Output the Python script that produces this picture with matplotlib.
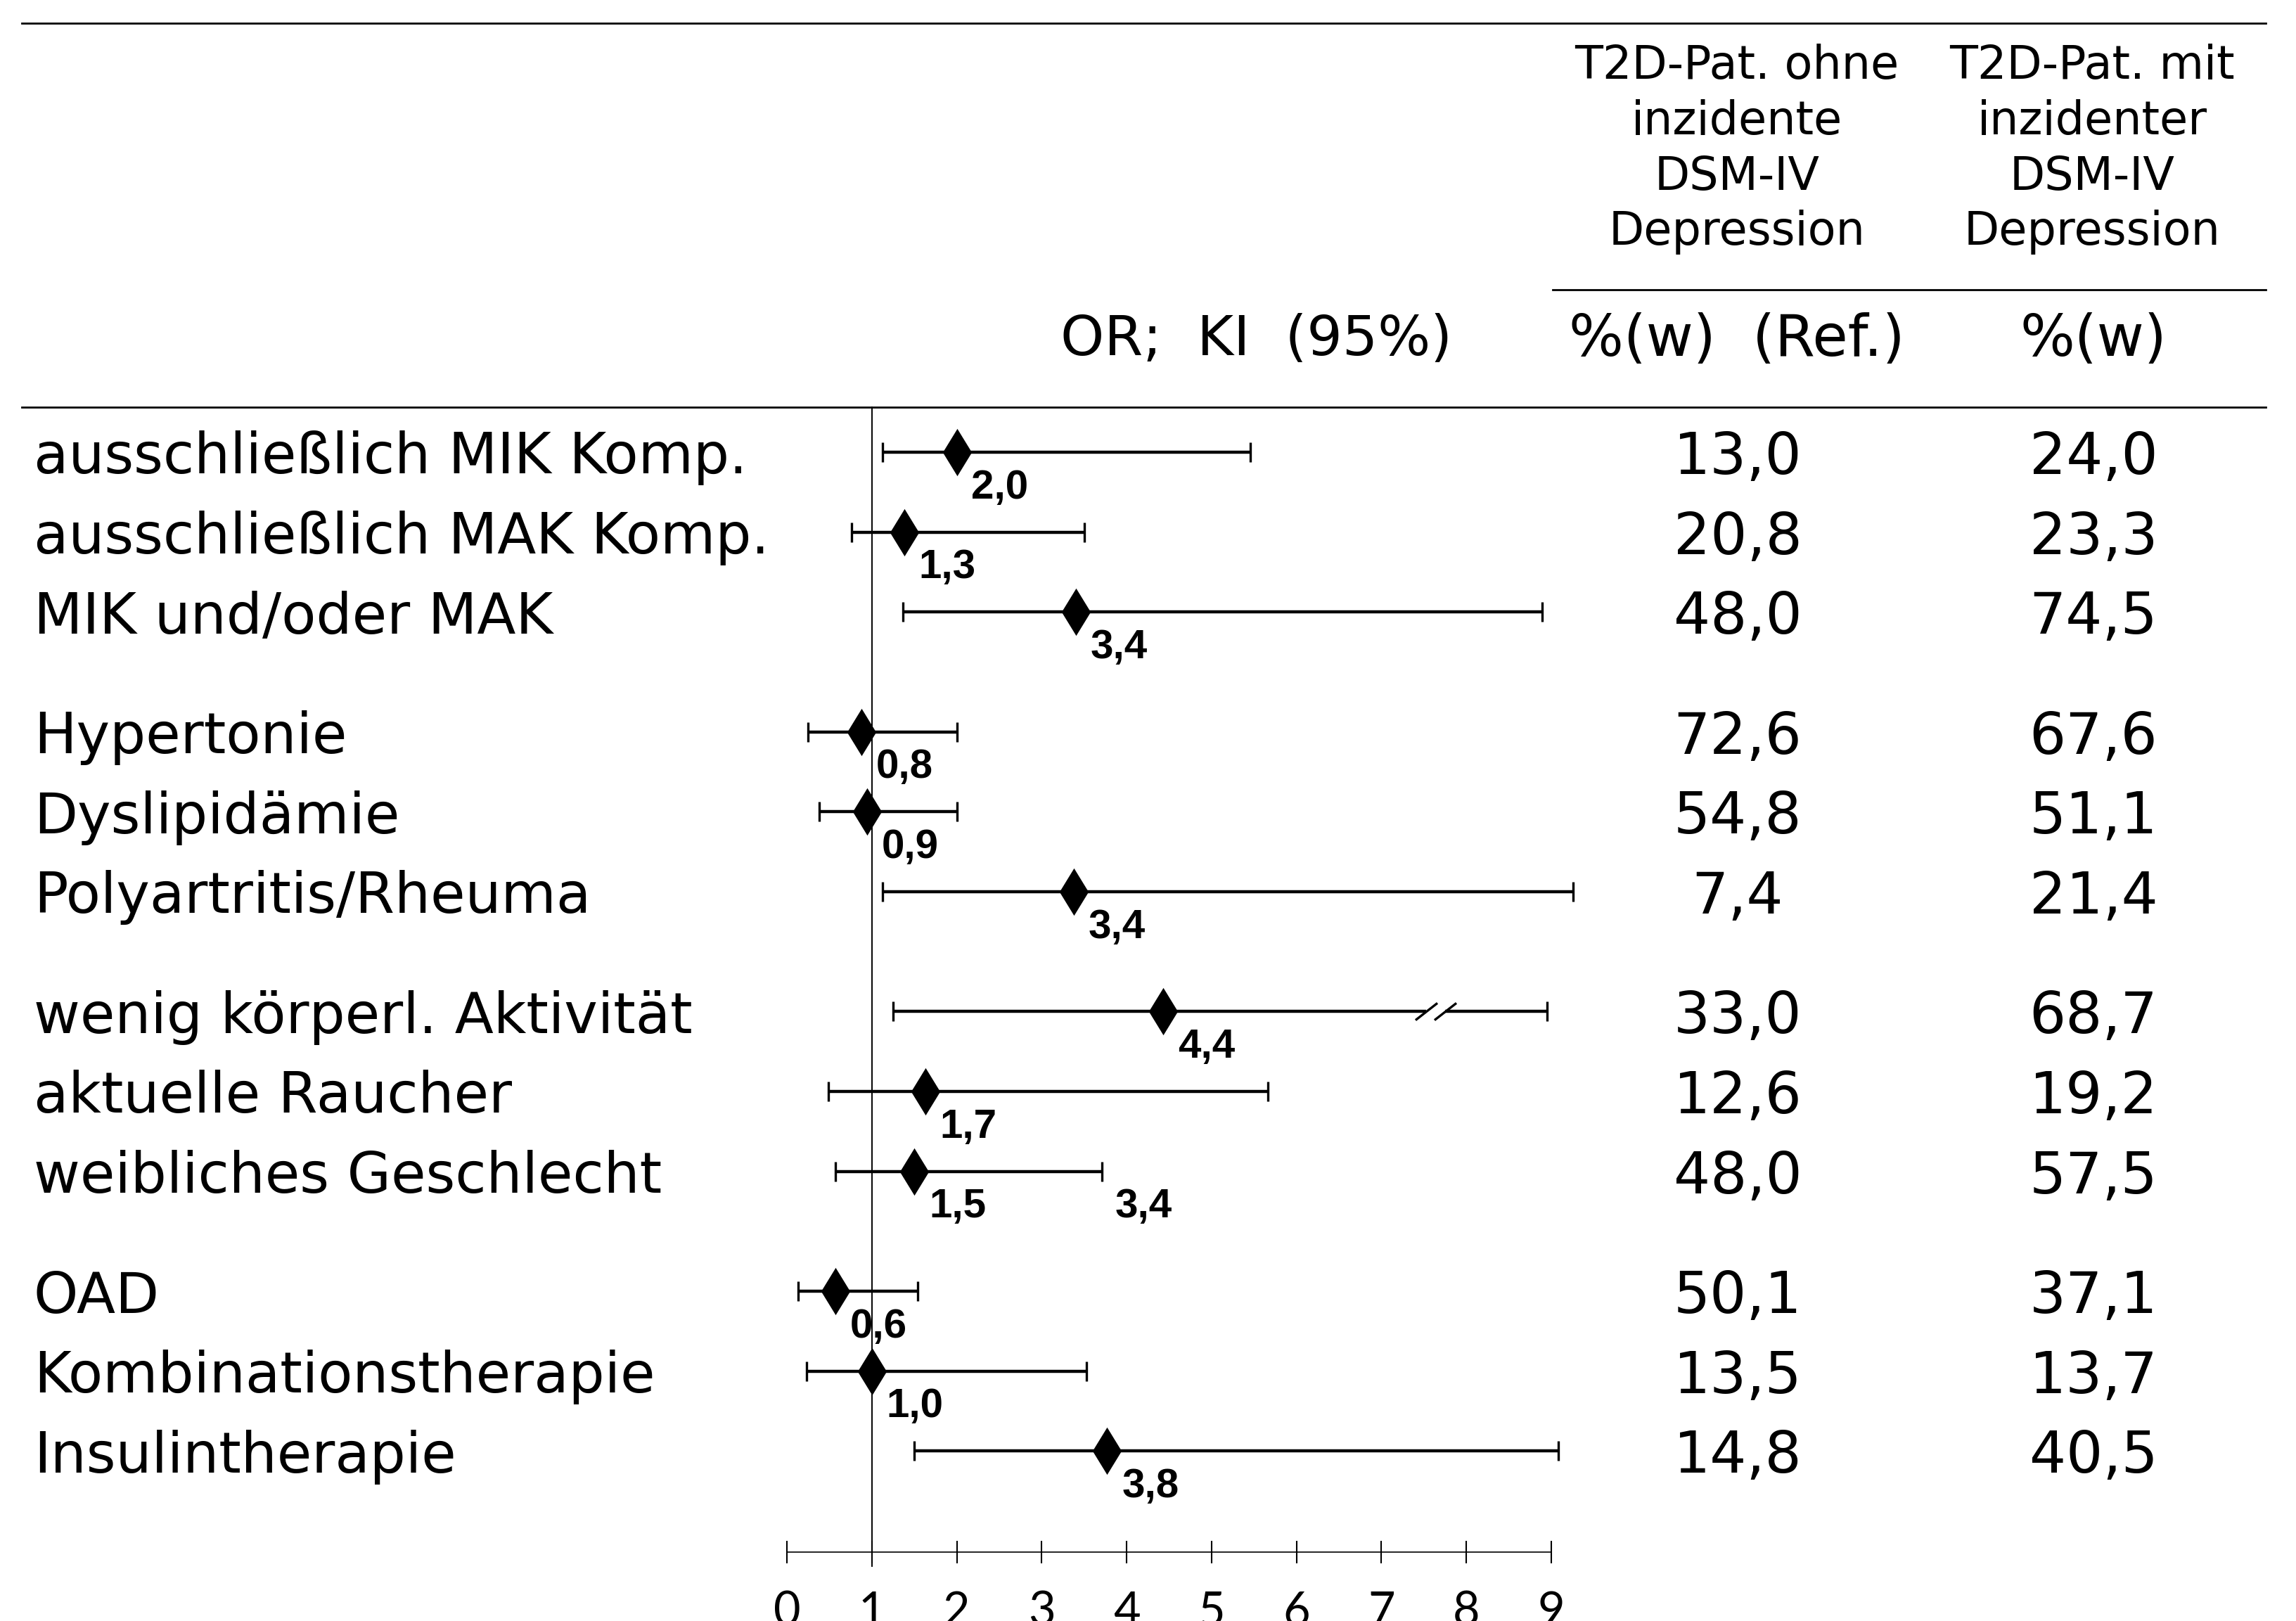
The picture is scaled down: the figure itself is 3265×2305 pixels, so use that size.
import matplotlib
matplotlib.use("Agg")
import matplotlib.pyplot as plt
import matplotlib.transforms as mtransforms
from matplotlib.lines import Line2D

plt.rcParams['font.family'] = ['DejaVu Sans']

# zeilen (vier gruppen zu je drei)
labels = ['ausschließlich MIK Komp.', 'ausschließlich MAK Komp.', 'MIK und/oder MAK',
          'Hypertonie', 'Dyslipidämie', 'Polyartritis/Rheuma',
          'wenig körperl. Aktivität', 'aktuelle Raucher', 'weibliches Geschlecht',
          'OAD', 'Kombinationstherapie', 'Insulintherapie']
groups = [3, 3, 3, 3]

# OR-werte wie beschriftet und wie gezeichnet, KI-grenzen
or_text = ['2,0', '1,3', '3,4', '0,8', '0,9', '3,4', '4,4', '1,7', '1,5', '0,6', '1,0', '3,8']
or_mark = [2.00, 1.38, 3.40, 0.88, 0.94, 3.38, 4.43, 1.63, 1.50, 0.57, 1.00, 3.77]
ci_lo = [1.13, 0.76, 1.37, 0.25, 0.38, 1.13, 1.25, 0.49, 0.57, 0.13, 0.23, 1.50]
ci_hi = [5.46, 3.50, 8.89, 2.00, 2.00, 9.26, 8.95, 5.66, 3.71, 1.54, 3.53, 9.08]

# zusaetzliche beschriftung am oberen KI-ende (weibliches Geschlecht)
extra_row = 8
extra_text = '3,4'

# achsenbruch bei "wenig körperl. Aktivität"
break_row = 6
break_lo, break_hi = 7.53, 7.75

pct_ref = [13.0, 20.8, 48.0, 72.6, 54.8, 7.4, 33.0, 12.6, 48.0, 50.1, 13.5, 14.8]
pct_dep = [24.0, 23.3, 74.5, 67.6, 51.1, 21.4, 68.7, 19.2, 57.5, 37.1, 13.7, 40.5]

head_ref = ['T2D-Pat. ohne', 'inzidente', 'DSM-IV', 'Depression']
head_dep = ['T2D-Pat. mit', 'inzidenter', 'DSM-IV', 'Depression']
xticks = list(range(10))


def fmt(v):
    return f'{v:.1f}'.replace('.', ',')


# y-position der zeilen, halbe zeile luecke zwischen gruppen
rows = []
g_start = 0.0
for g in groups:
    for k in range(g):
        rows.append(g_start + k)
    g_start += g + 0.5

W, H = 3266, 2305
fig = plt.figure(figsize=(W / 200, H / 200), dpi=200)
fig.patch.set_facecolor('white')


def fx(px):
    return px / W


def fy(py):
    return 1 - py / H


# forest-plot achse: OR 0..9 zwischen px 1119 und 2206
ax = fig.add_axes([fx(1119), fy(2207), fx(2206) - fx(1119), fy(579) - fy(2207)])
ax.set_xlim(0, 9)
ax.set_ylim(13.765, -0.563)
for s in ['top', 'left', 'right']:
    ax.spines[s].set_visible(False)
ax.spines['bottom'].set_linewidth(0.6)
ax.set_yticks([])
ax.set_xticks(xticks)
ax.tick_params(axis='x', direction='inout', length=11.5, width=0.75, pad=14,
               labelsize=24)
for t in ax.get_xticklabels():
    t.set_family(['Lato', 'DejaVu Sans'])
    t.set_fontweight('normal')
ax.patch.set_alpha(0)

# referenzlinie bei OR = 1
ax.axvline(1, ymin=-0.0125, ymax=1, color='black', lw=0.7, clip_on=False, zorder=1)

xerr = [[m - lo for m, lo in zip(or_mark, ci_lo)],
        [hi - m for m, hi in zip(or_mark, ci_hi)]]
eb = ax.errorbar(or_mark, rows, xerr=xerr, fmt='d', ms=16, color='black',
                 mfc='black', mec='black', elinewidth=1.6, capsize=5.2, capthick=1.2,
                 zorder=3)
for art in eb.lines[1] + (eb.lines[0],):
    art.set_clip_on(False)
for coll in eb.lines[2]:
    coll.set_clip_on(False)

# bruchzeichen //
y_b = rows[break_row]
ax.plot([break_lo, break_hi], [y_b, y_b], color='white', lw=2.8, zorder=4,
        solid_capstyle='butt')
ax.plot([break_lo, break_hi], [y_b, y_b], ls='', marker=[(-1, -0.78), (1, 0.78)],
        ms=11.2, mew=1.2, color='black', zorder=5)

# OR-beschriftungen
for m, y, s in zip(or_mark, rows, or_text):
    ax.annotate(s, (m, y), xytext=(7.5, -8.5), textcoords='offset points',
                ha='left', va='top', fontsize=21, fontweight='bold',
                family=['Liberation Sans', 'DejaVu Sans'], annotation_clip=False)
ax.annotate(extra_text, (ci_hi[extra_row], rows[extra_row]), xytext=(6.5, -8.5),
            textcoords='offset points', ha='left', va='top', fontsize=21,
            fontweight='bold', family=['Liberation Sans', 'DejaVu Sans'],
            annotation_clip=False)

# tabelle: text in figur-x, zeilen in daten-y
trans = mtransforms.blended_transform_factory(fig.transFigure, ax.transData)
for y, lab, a, b in zip(rows, labels, pct_ref, pct_dep):
    fig.text(fx(48), y, lab, transform=trans, ha='left', va='center_baseline',
             fontsize=29)
    fig.text(fx(2471), y, fmt(a), transform=trans, ha='center',
             va='center_baseline', fontsize=29.5)
    fig.text(fx(2977), y, fmt(b), transform=trans, ha='center',
             va='center_baseline', fontsize=29.5)

# kopf
for i, (a, b) in enumerate(zip(head_ref, head_dep)):
    yy = fy(87 + i * 78.8)
    fig.text(fx(2470), yy, a, ha='center', va='center_baseline', fontsize=23.5)
    fig.text(fx(2975), yy, b, ha='center', va='center_baseline', fontsize=23.5)

fig.text(fx(1787), fy(475), 'OR;  KI  (95%)', ha='center', va='center_baseline',
         fontsize=28.5)
fig.text(fx(2470), fy(475), '%(w)  (Ref.)', ha='center', va='center_baseline',
         fontsize=29.5)
fig.text(fx(2977), fy(475), '%(w)', ha='center', va='center_baseline',
         fontsize=29.5)

# linien
for (x0, x1, py) in [(31, 3222, 33), (2208, 3222, 412), (31, 3222, 579)]:
    fig.add_artist(Line2D([fx(x0), fx(x1)], [fy(py), fy(py)], transform=fig.transFigure,
                          color='black', lw=1.0))

fig.savefig('out.png', dpi=200, facecolor='white')
